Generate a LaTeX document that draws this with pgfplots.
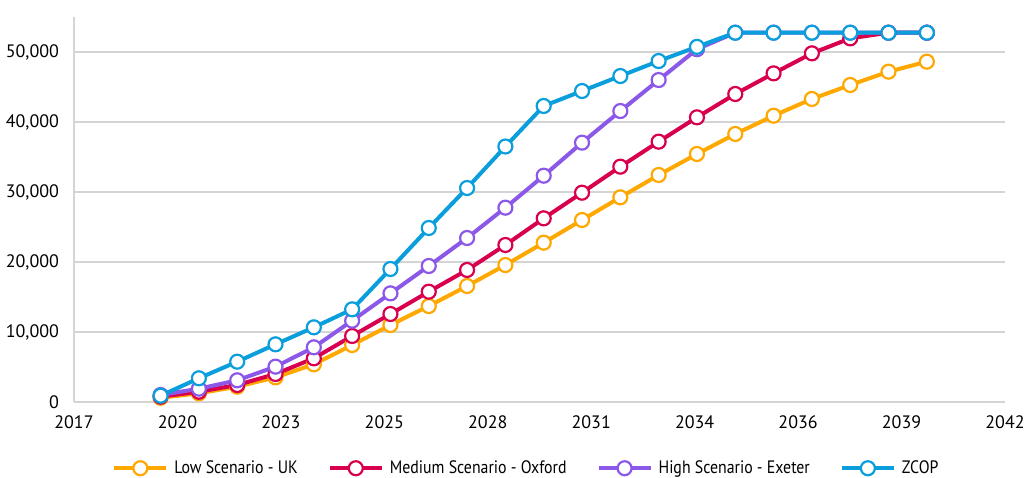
\documentclass[border=0pt]{standalone}
\usepackage{fontspec}
\setmainfont{PT Sans}
\usepackage{pgfplots}
\pgfplotsset{compat=1.18}
\definecolor{lowc}{HTML}{FFA800}
\definecolor{medc}{HTML}{D8004E}
\definecolor{highc}{HTML}{8C58E8}
\definecolor{zcop}{HTML}{0A9FDC}
\definecolor{gridc}{HTML}{D4D4D4}
\newcommand{\nar}[1]{\scalebox{0.88}[1]{#1}}

\begin{document}
\begin{tikzpicture}
\begin{axis}[
  scale only axis,
  width=465.5pt,height=192.5pt,
  xmin=2017.74,xmax=2042.04,
  ymin=0,ymax=55000,
  axis x line=bottom,axis y line=left,
  axis line style={gridc,line width=0.8pt,-},
  xtick={2017.74,2020.44,2023.14,2025.84,2028.54,2031.24,2033.94,2036.64,2039.34,2042.04},
  xticklabels={2017,2020,2023,2025,2028,2031,2034,2036,2039,2042},
  ytick={0,10000,20000,30000,40000,50000},
  scaled y ticks=false,
  ymajorgrids,
  major grid style={gridc,line width=0.8pt},
  major tick length=0pt,
  /pgf/number format/1000 sep={,},
  /pgf/number format/assume math mode=true,
  ticklabel style={font=\fontsize{9}{11}\selectfont,black},
  yticklabel style={xshift=-4pt},
  xticklabel style={yshift=-3.5pt},
  every axis plot/.append style={line width=2pt,mark=*,mark size=3.5pt,
    mark options={fill=white,line width=1.1pt}},
  legend style={at={(0.487,-0.172)},anchor=center,draw=none,
    legend columns=4,font=\fontsize{9}{11}\selectfont,
    /tikz/every even column/.append style={column sep=13pt},
    /tikz/every odd column/.append style={column sep=1pt}},
  legend image code/.code={
    \draw[mark repeat=2,mark phase=2] plot coordinates {(0pt,0pt) (13pt,0pt) (26pt,0pt)};},
  clip=false,
]
\addplot[color=lowc] coordinates {
(2020,600) (2021,1240) (2022,2190) (2023,3520) (2024,5380) (2025,8140)
(2026,11000) (2027,13710) (2028,16570) (2029,19570) (2030,22760) (2031,26000)
(2032,29240) (2033,32430) (2034,35430) (2035,38290) (2036,40900) (2037,43290)
(2038,45290) (2039,47190) (2040,48620)};
\addplot[color=medc] coordinates {
(2020,760) (2021,1470) (2022,2430) (2023,4000) (2024,6240) (2025,9430)
(2026,12570) (2027,15760) (2028,18860) (2029,22430) (2030,26240) (2031,29900)
(2032,33620) (2033,37190) (2034,40670) (2035,44000) (2036,46950) (2037,49810)
(2038,51950) (2039,52760) (2040,52760)};
\addplot[color=highc] coordinates {
(2020,1000) (2021,1900) (2022,3100) (2023,5050) (2024,7810) (2025,11620)
(2026,15520) (2027,19430) (2028,23430) (2029,27760) (2030,32330) (2031,37050)
(2032,41570) (2033,46000) (2034,50400) (2035,52760) (2036,52760) (2037,52760)
(2038,52760) (2039,52760) (2040,52760)};
\addplot[color=zcop] coordinates {
(2020,900) (2021,3390) (2022,5760) (2023,8240) (2024,10670) (2025,13240)
(2026,19000) (2027,24860) (2028,30570) (2029,36500) (2030,42290) (2031,44430)
(2032,46570) (2033,48710) (2034,50740) (2035,52760) (2036,52760) (2037,52760)
(2038,52760) (2039,52760) (2040,52760)};
\legend{\nar{Low Scenario - UK},\nar{Medium Scenario - Oxford},\nar{High Scenario - Exeter},\nar{ZCOP}}
\end{axis}
\pgfresetboundingbox
\useasboundingbox (-37pt,-37.5pt) rectangle (480pt,201pt);
\end{tikzpicture}
\end{document}
